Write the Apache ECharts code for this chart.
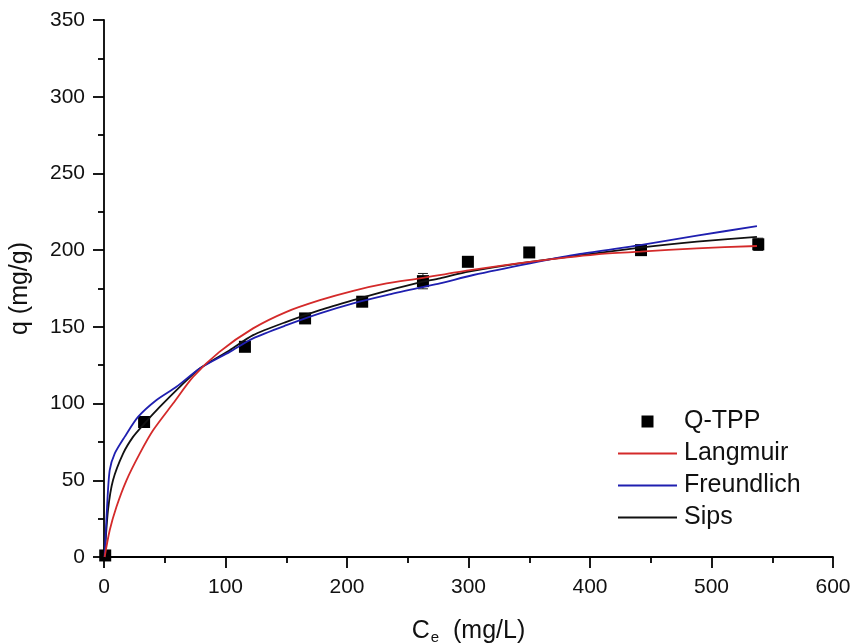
<!DOCTYPE html>
<html>
<head>
<meta charset="utf-8">
<script src="https://cdn.jsdelivr.net/npm/echarts@6/dist/echarts.min.js"></script>
<style>
html,body{margin:0;padding:0;background:#fff;}
#chart{width:855px;height:643px;}
</style>
</head>
<body>
<div id="chart"></div>
<script>
// Experimental data (Q-TPP)
const expCe = [1, 33, 116, 165.5, 212.5, 262.5, 299.5, 350, 442, 538.5];
const expQ  = [1, 88, 137, 155.5, 166.4, 179.8, 192.4, 198.5, 200, 203.8];
const expErr = [0, 1, 1, 1, 1, 5, 1, 1, 2, 4];

// Langmuir fitted curve
const langCe = [0.5, 4.7, 10.2, 18.5, 29.4, 40.4, 56.8, 73.3, 95, 122.7, 150.2, 177.7, 205.1, 232.6, 260, 300, 350.7, 405.6, 441.3, 488, 537.4];
const langQ  = [0, 17.4, 32.6, 50, 67.4, 82.6, 100, 117.4, 133.7, 149, 159.8, 167.4, 173.5, 178.3, 181.6, 186.8, 192.4, 197.3, 199, 201.2, 202.7];

// Freundlich fitted curve
const freCe = [0.5, 2.5, 4.7, 8.8, 17, 28, 43, 59.6, 78.8, 103.5, 122.7, 150.2, 177.7, 205.1, 232.6, 260, 276.5, 304, 350.7, 391.8, 441.3, 488, 537.4];
const freQ  = [0, 32.6, 56.6, 67.4, 78.3, 91.3, 102.2, 110.9, 122.9, 133.7, 142.5, 151.1, 158.8, 165.3, 170.7, 175.5, 178.3, 183.8, 191.4, 197.5, 203.3, 209.4, 215.7];

// Sips fitted curve
const sipsCe = [0.5, 3.3, 7.4, 15.7, 23.9, 32.7, 45.9, 62.4, 78.8, 103.5, 122.7, 150.2, 177.7, 205.1, 232.6, 260, 276.5, 300, 350.7, 441.3, 488, 537.4];
const sipsQ  = [0, 30.5, 50, 67.4, 78.3, 86.5, 97.8, 110.9, 122.9, 134.8, 144.6, 153.3, 160.9, 167.4, 173.5, 179, 181.6, 186, 192.4, 201.6, 205.5, 208.7];

const xTicks = [0, 100, 200, 300, 400, 500, 600];
const yTicks = [0, 50, 100, 150, 200, 250, 300, 350];

const zip = (a, b) => a.map((v, i) => [v, b[i]]);
const FONT = '"Liberation Sans", Arial, sans-serif';

const chart = echarts.init(document.getElementById('chart'), null, {renderer: 'canvas'});

const axisCommon = {
  axisLine: {show: true, lineStyle: {color: '#000', width: 1.8}},
  axisTick: {show: true, inside: false, length: 11, lineStyle: {color: '#000', width: 1.8}},
  minorTick: {show: true, splitNumber: 2, length: 6, lineStyle: {color: '#000', width: 1.8}},
  splitLine: {show: false},
  axisLabel: {color: '#111', fontSize: 21, fontFamily: FONT}
};

const SQUARE = 'path://M0,0L10,0L10,10L0,10Z';
const BAR = 'path://M0,0L59,0L59,2L0,2Z';

chart.setOption({
  animation: false,
  backgroundColor: '#fff',
  grid: {left: 104, right: 22, top: 20, bottom: 86, containLabel: false, outerBoundsMode: 'none'},
  xAxis: Object.assign({}, axisCommon, {
    type: 'value', min: xTicks[0], max: xTicks[xTicks.length - 1], interval: 100,
    name: '{a|C}{b|e}{a|  (mg/L)}',
    nameLocation: 'middle', nameGap: 60,
    nameTextStyle: {
      rich: {
        a: {fontSize: 25, fontFamily: FONT, color: '#111'},
        b: {fontSize: 15, fontFamily: FONT, color: '#111', padding: [13, 0, 0, 1]}
      }
    },
    axisLabel: Object.assign({}, axisCommon.axisLabel, {margin: 20})
  }),
  yAxis: Object.assign({}, axisCommon, {
    type: 'value', min: yTicks[0], max: yTicks[yTicks.length - 1], interval: 50,
    name: 'q (mg/g)', nameLocation: 'middle', nameGap: 71, nameRotate: 90,
    nameTextStyle: {fontSize: 25, fontFamily: FONT, color: '#111'},
    axisLabel: Object.assign({}, axisCommon.axisLabel, {margin: 19})
  }),
  legend: {
    orient: 'vertical', left: 613, top: 404,
    itemWidth: 59, itemHeight: 12, itemGap: 7, symbolKeepAspect: true,
    textStyle: {fontSize: 25, lineHeight: 25, fontFamily: FONT, color: '#111', padding: [0, 0, 0, 2]},
    data: [
      {name: 'Q-TPP', icon: SQUARE, itemStyle: {color: '#000', opacity: 1}},
      {name: 'Langmuir', icon: BAR, itemStyle: {color: '#d42a2a'}},
      {name: 'Freundlich', icon: BAR, itemStyle: {color: '#1f1fb0'}},
      {name: 'Sips', icon: BAR, itemStyle: {color: '#111'}}
    ]
  },
  series: [
    {
      name: 'err', type: 'custom', z: 1, silent: true,
      data: expCe.map((c, i) => [c, expQ[i] - expErr[i], expQ[i] + expErr[i]]),
      renderItem: function (params, api) {
        const lo = api.coord([api.value(0), api.value(1)]);
        const hi = api.coord([api.value(0), api.value(2)]);
        const hw = 5;
        const st = {stroke: '#222', lineWidth: 1};
        return {type: 'group', children: [
          {type: 'line', shape: {x1: lo[0], y1: lo[1], x2: hi[0], y2: hi[1]}, style: st},
          {type: 'line', shape: {x1: lo[0]-hw, y1: lo[1], x2: lo[0]+hw, y2: lo[1]}, style: st},
          {type: 'line', shape: {x1: hi[0]-hw, y1: hi[1], x2: hi[0]+hw, y2: hi[1]}, style: st}
        ]};
      }
    },
    {
      name: 'Q-TPP', type: 'scatter', symbol: 'rect', symbolSize: 12,
      itemStyle: {color: '#000', opacity: 1}, z: 2, clip: false,
      data: zip(expCe, expQ)
    },
    {
      name: 'Sips', type: 'line', smooth: 0.25, showSymbol: false, symbol: 'none', z: 3,
      lineStyle: {color: '#111', width: 1.8}, itemStyle: {color: '#111'},
      data: zip(sipsCe, sipsQ)
    },
    {
      name: 'Freundlich', type: 'line', smooth: 0.25, showSymbol: false, symbol: 'none', z: 4,
      lineStyle: {color: '#1f1fb0', width: 1.8}, itemStyle: {color: '#1f1fb0'},
      data: zip(freCe, freQ)
    },
    {
      name: 'Langmuir', type: 'line', smooth: 0.25, showSymbol: false, symbol: 'none', z: 5,
      lineStyle: {color: '#d42a2a', width: 1.8}, itemStyle: {color: '#d42a2a'},
      data: zip(langCe, langQ)
    }
  ]
});
</script>
</body>
</html>
